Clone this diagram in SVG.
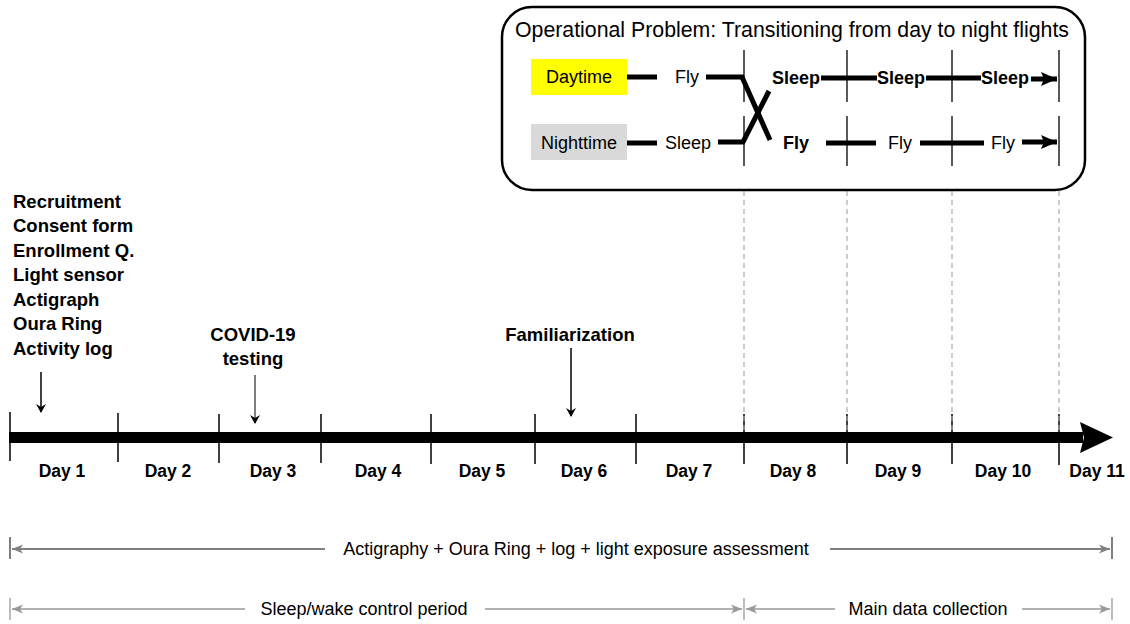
<svg xmlns="http://www.w3.org/2000/svg" width="1130" height="624" viewBox="0 0 1130 624">
<style>
text{font-family:"Liberation Sans",Arial,sans-serif;fill:#000}
.b{font-weight:bold}
.lst{font-size:18.5px;font-weight:bold}
.day{font-size:17.5px;font-weight:bold;text-anchor:middle}
.bx{font-size:18px;text-anchor:middle}
.rng{font-size:18px;text-anchor:middle}
.thick{stroke:#000;stroke-width:5;fill:none}
.vt{stroke:#000;stroke-width:1.3}
.tick{stroke:#000;stroke-width:1.5}
.dash{stroke:#aaa;stroke-width:1.2;stroke-dasharray:5 4}
.gl{stroke:#808080;stroke-width:2;fill:none}
.gl2{stroke:#999;stroke-width:1.3;fill:none}
</style>
<defs>
<marker id="ah" markerWidth="10" markerHeight="10" refX="8" refY="5" orient="auto" markerUnits="userSpaceOnUse"><path d="M0,0 L9,5 L0,10 L3,5 Z" fill="#000"/></marker>
<marker id="ahb" markerWidth="18" markerHeight="18" refX="16" refY="9" orient="auto" markerUnits="userSpaceOnUse"><path d="M0,2 L16,9 L0,16 L3,9 Z" fill="#000"/></marker>
<marker id="ga" markerWidth="12" markerHeight="12" refX="11" refY="6" orient="auto" markerUnits="userSpaceOnUse"><path d="M0,1.5 L11,6 L0,10.5 L3,6 Z" fill="#808080"/></marker>
<marker id="ga2" markerWidth="12" markerHeight="12" refX="11" refY="6" orient="auto" markerUnits="userSpaceOnUse"><path d="M0,1.5 L11,6 L0,10.5 L3,6 Z" fill="#999"/></marker>
</defs>

<g id="timeline">
<rect x="9" y="432" width="1074" height="11" fill="#000"/>
<polygon points="1080,422 1113,437.5 1080,453 1084,437.5" fill="#000"/>
<g class="tick">
<line x1="10" y1="412" x2="10" y2="461"/>
<line x1="118" y1="413" x2="118" y2="462"/>
<line x1="219" y1="414" x2="219" y2="463"/>
<line x1="321" y1="414" x2="321" y2="463"/>
<line x1="431" y1="414" x2="431" y2="464"/>
<line x1="535" y1="414" x2="535" y2="464"/>
<line x1="636" y1="414" x2="636" y2="464"/>
<line x1="744" y1="414" x2="744" y2="464"/>
<line x1="847" y1="414" x2="847" y2="464"/>
<line x1="952" y1="414" x2="952" y2="464"/>
<line x1="1059" y1="414" x2="1059" y2="465"/>
</g>
<text class="day" x="62" y="477">Day 1</text>
<text class="day" x="168" y="477">Day 2</text>
<text class="day" x="273" y="477">Day 3</text>
<text class="day" x="378" y="477">Day 4</text>
<text class="day" x="482" y="477">Day 5</text>
<text class="day" x="584" y="477">Day 6</text>
<text class="day" x="689" y="477">Day 7</text>
<text class="day" x="793" y="477">Day 8</text>
<text class="day" x="898" y="477">Day 9</text>
<text class="day" x="1003" y="477">Day 10</text>
<text class="day" x="1097" y="477">Day 11</text>
</g>

<g id="enrollment">
<text class="lst" x="13" y="207.5">Recruitment</text>
<text class="lst" x="13" y="232">Consent form</text>
<text class="lst" x="13" y="256.5">Enrollment Q.</text>
<text class="lst" x="13" y="281">Light sensor</text>
<text class="lst" x="13" y="305.5">Actigraph</text>
<text class="lst" x="13" y="330">Oura Ring</text>
<text class="lst" x="13" y="354.5">Activity log</text>
</g>

<g id="covid">
<text class="lst" x="253" y="341" text-anchor="middle">COVID-19</text>
<text class="lst" x="253" y="365" text-anchor="middle">testing</text>
</g>

<g id="familiarization">
<text class="lst" x="570" y="341" text-anchor="middle">Familiarization</text>
</g>

<g id="connectors">
<line x1="41" y1="372" x2="41" y2="412" stroke="#000" stroke-width="1.5" marker-end="url(#ah)"/>
<line x1="255" y1="375" x2="255" y2="423" stroke="#000" stroke-width="1" marker-end="url(#ah)"/>
<line x1="571" y1="348" x2="571" y2="416" stroke="#000" stroke-width="1.5" marker-end="url(#ah)"/>
<g class="dash">
<line x1="744" y1="191" x2="744" y2="430"/>
<line x1="847" y1="191" x2="847" y2="430"/>
<line x1="952" y1="191" x2="952" y2="430"/>
<line x1="1059" y1="191" x2="1059" y2="430"/>
</g>
</g>

<g id="operational-problem">
<rect x="502" y="7" width="583" height="183" rx="30" ry="30" fill="#fff" stroke="#000" stroke-width="2.5"/>
<text x="792" y="37" font-size="21.3" text-anchor="middle">Operational Problem: Transitioning from day to night flights</text>
<rect x="531" y="59" width="96" height="36" fill="#ffff00"/>
<text class="bx" x="579" y="83">Daytime</text>
<rect x="531" y="124" width="96" height="36" fill="#d9d9d9"/>
<text class="bx" x="579" y="149">Nighttime</text>
<g class="vt">
<line x1="744" y1="50" x2="744" y2="102"/>
<line x1="744" y1="116" x2="744" y2="166"/>
<line x1="847" y1="50" x2="847" y2="102"/>
<line x1="847" y1="116" x2="847" y2="166"/>
<line x1="952" y1="50" x2="952" y2="102"/>
<line x1="952" y1="116" x2="952" y2="166"/>
<line x1="1059" y1="50" x2="1059" y2="102"/>
<line x1="1059" y1="116" x2="1059" y2="166"/>
</g>
<line class="thick" x1="627" y1="77" x2="657" y2="77"/>
<line class="thick" x1="627" y1="143" x2="657" y2="143"/>
<polyline class="thick" points="706,77 742,77 770,140"/>
<polyline class="thick" points="718,142 743,142 769,91"/>
<line class="thick" x1="821" y1="78" x2="877" y2="78"/>
<line class="thick" x1="926" y1="78" x2="981" y2="78"/>
<line class="thick" x1="1031" y1="79" x2="1057" y2="79" marker-end="url(#ahb)"/>
<line class="thick" x1="826" y1="143" x2="876" y2="143"/>
<line class="thick" x1="920" y1="143" x2="984" y2="143"/>
<line class="thick" x1="1022" y1="142" x2="1057" y2="142" marker-end="url(#ahb)"/>
<text class="bx" x="687" y="83">Fly</text>
<text class="bx" x="688" y="149">Sleep</text>
<text class="bx b" x="796" y="84">Sleep</text>
<text class="bx b" x="901" y="84">Sleep</text>
<text class="bx b" x="1005" y="84">Sleep</text>
<text class="bx b" x="796" y="149">Fly</text>
<text class="bx" x="900" y="149">Fly</text>
<text class="bx" x="1003" y="149">Fly</text>
</g>

<g id="ranges">
<g class="gl">
<line x1="10" y1="537" x2="10" y2="559"/>
<line x1="1112" y1="537" x2="1112" y2="559"/>
<line x1="325" y1="549" x2="12" y2="549" marker-end="url(#ga)"/>
<line x1="830" y1="549" x2="1110" y2="549" marker-end="url(#ga)"/>
</g>
<g class="gl2">
<line x1="10" y1="598" x2="10" y2="620"/>
<line x1="744" y1="598" x2="744" y2="620"/>
<line x1="1112" y1="598" x2="1112" y2="620"/>
<line x1="245" y1="609" x2="12" y2="609" marker-end="url(#ga2)"/>
<line x1="485" y1="609" x2="742" y2="609" marker-end="url(#ga2)"/>
<line x1="835" y1="609" x2="746" y2="609" marker-end="url(#ga2)"/>
<line x1="1022" y1="609" x2="1110" y2="609" marker-end="url(#ga2)"/>
</g>
<text class="rng" x="576" y="555">Actigraphy + Oura Ring + log + light exposure assessment</text>
<text class="rng" x="364" y="615">Sleep/wake control period</text>
<text class="rng" x="928" y="615">Main data collection</text>
</g>
</svg>
